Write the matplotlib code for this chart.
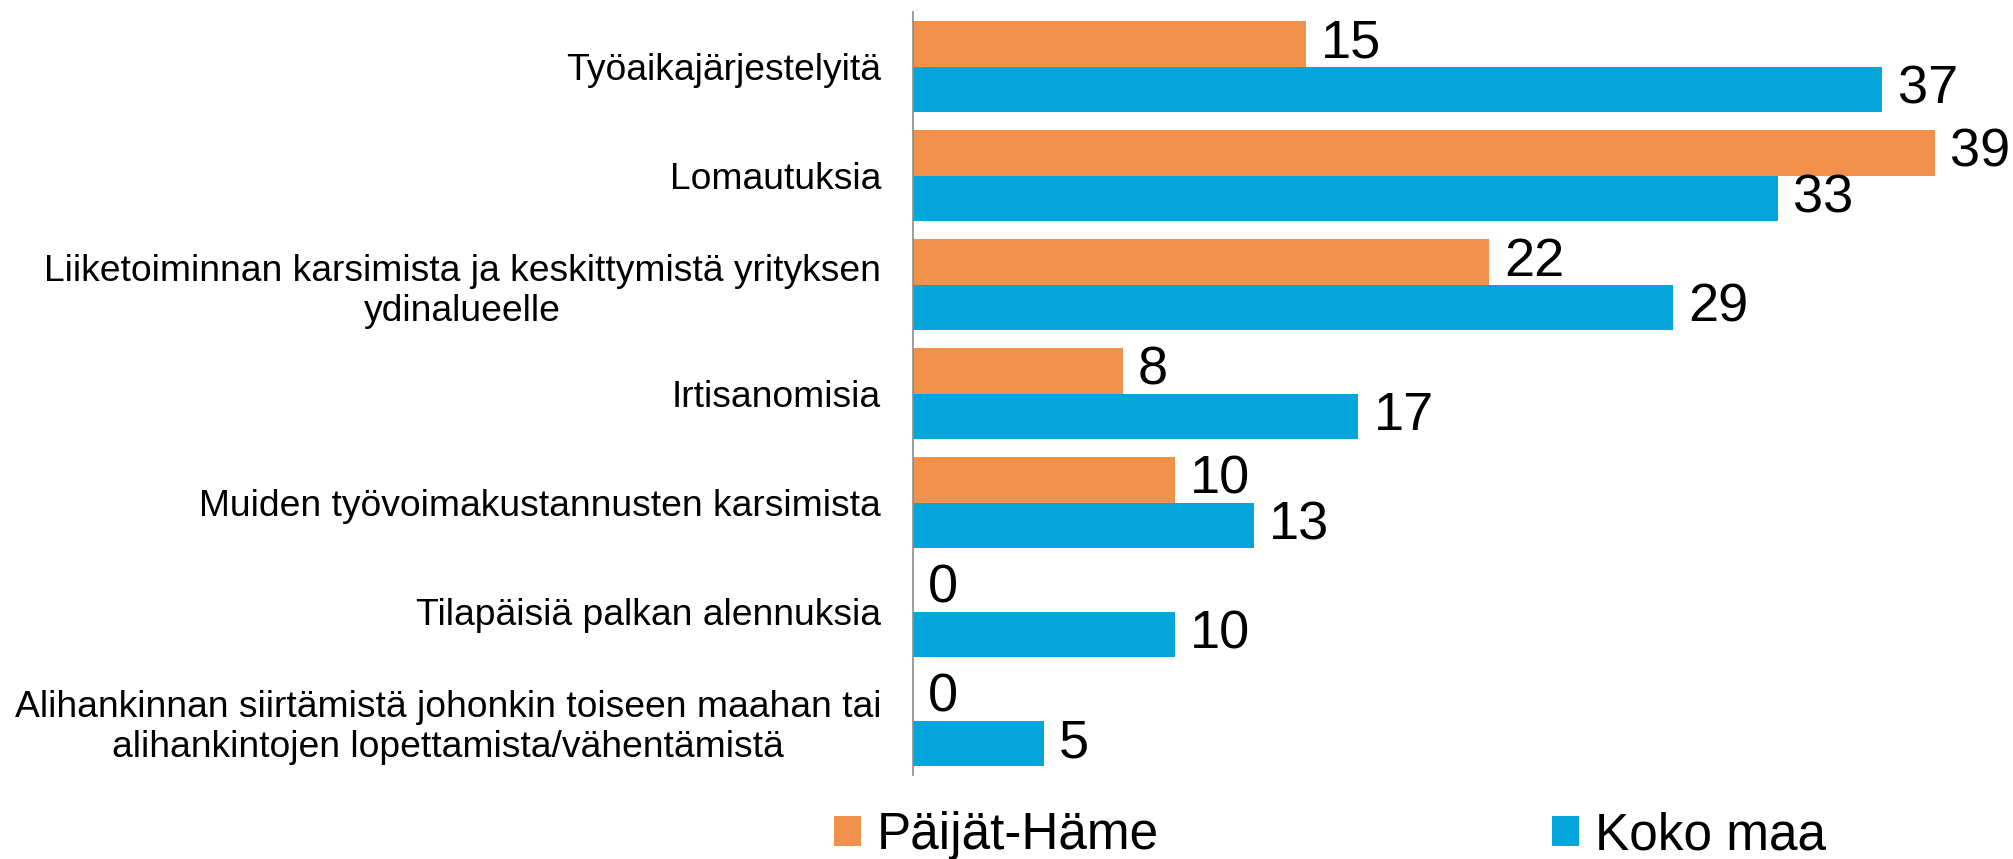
import matplotlib
matplotlib.use("Agg")
import matplotlib.pyplot as plt
import numpy as np

plt.rcParams['font.family'] = ['Liberation Sans', 'DejaVu Sans']

categories = [
    "Työaikajärjestelyitä",
    "Lomautuksia",
    "Liiketoiminnan karsimista ja keskittymistä yrityksen\nydinalueelle",
    "Irtisanomisia",
    "Muiden työvoimakustannusten karsimista",
    "Tilapäisiä palkan alennuksia",
    "Alihankinnan siirtämistä johonkin toiseen maahan tai\nalihankintojen lopettamista/vähentämistä",
]
paijat_hame = [15, 39, 22, 8, 10, 0, 0]
koko_maa = [37, 33, 29, 17, 13, 10, 5]
series_names = ["Päijät-Häme", "Koko maa"]

orange = '#F1914B'
blue = '#03A5DA'

W, H = 2013, 859
fig = plt.figure(figsize=(W / 100, H / 100), dpi=100)
ax = fig.add_axes([913 / W, 1 - 775 / H, 1 - 913 / W, (775 - 12) / H])

y = np.arange(len(categories))
bh = 0.413
b1 = ax.barh(y - bh / 2, paijat_hame, height=bh, color=orange, label=series_names[0])
b2 = ax.barh(y + bh / 2, koko_maa, height=bh, color=blue, label=series_names[1])

for bars, vals in ((b1, paijat_hame), (b2, koko_maa)):
    for rect, v in zip(bars, vals):
        ax.annotate(str(v), (rect.get_width(), rect.get_y() + rect.get_height() / 2),
                    xytext=(11, 0), textcoords='offset points',
                    ha='left', va='center', fontsize=39)

ax.set_xlim(0, 1100 / 26.2)
ax.set_ylim(len(categories) - 0.5, -0.5)
ax.set_yticks(y)
ax.set_yticklabels(categories, fontsize=26.8)
for lbl in ax.get_yticklabels():
    lbl.set_multialignment('center')
ax.tick_params(axis='y', length=0, pad=23)
ax.set_xticks([])
for s in ('top', 'right', 'bottom'):
    ax.spines[s].set_visible(False)
ax.spines['left'].set_color('#8C8C8C')
ax.spines['left'].set_linewidth(1.2)

fs_leg = 37
em = fs_leg * 100 / 72
fig.legend(handles=[b1, b2], labels=series_names, loc='center left',
           bbox_to_anchor=(834 / W, 1 - 836 / H), ncol=2, frameon=False,
           fontsize=fs_leg, borderpad=0, borderaxespad=0,
           handlelength=27 / em, handleheight=27 / em,
           handletextpad=16 / em, columnspacing=393 / em)

fig.savefig("out.png", dpi=100)
